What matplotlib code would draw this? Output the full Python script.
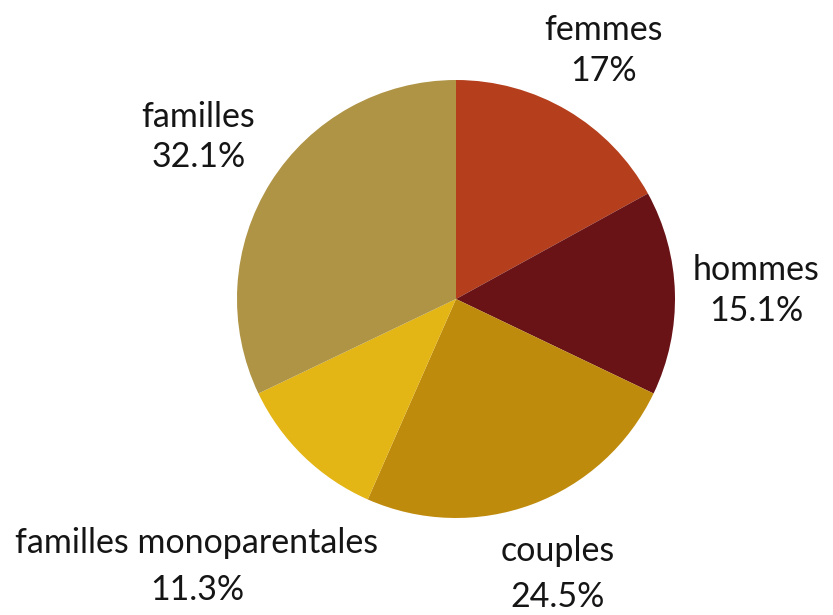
import matplotlib
matplotlib.use("Agg")
import matplotlib.pyplot as plt
import numpy as np

categories = ["femmes", "hommes", "couples", "familles monoparentales", "familles"]
values = [17, 15.1, 24.5, 11.3, 32.1]
pct_labels = ["17%", "15.1%", "24.5%", "11.3%", "32.1%"]
colors = ["#B53F1C", "#6A1317", "#BF8B0D", "#E3B515", "#AF9446"]

plt.rcParams['font.family'] = ['Lato', 'DejaVu Sans']

W, H = 833, 615
fig = plt.figure(figsize=(W/100, H/100), dpi=100)
cx, cy, r = 456, 299, 219
ax = fig.add_axes([(cx - r)/W, (H - cy - r)/H, 2*r/W, 2*r/H])

wedges, _ = ax.pie(values, colors=colors, startangle=90, counterclock=False,
                   radius=1, center=(0, 0), frame=True,
                   wedgeprops=dict(linewidth=0))
ax.set_xlim(-1, 1)
ax.set_ylim(-1, 1)
ax.axis('off')

# label distance (in radii) and line gap (in radii) per slice
dists = [1.32, 1.37, 1.34, 1.70, 1.39]
gaps = [0.187, 0.187, 0.21, 0.215, 0.183]
for w, cat, p, d, g in zip(wedges, categories, pct_labels, dists, gaps):
    ang = np.deg2rad((w.theta1 + w.theta2) / 2)
    x, y = d*np.cos(ang), d*np.sin(ang)
    ax.text(x, y + g/2, cat, ha='center', va='center', fontsize=24.5,
            color='#151515', clip_on=False)
    ax.text(x, y - g/2, p, ha='center', va='center', fontsize=24.5,
            color='#151515', clip_on=False)

fig.savefig("out.png", dpi=100)
